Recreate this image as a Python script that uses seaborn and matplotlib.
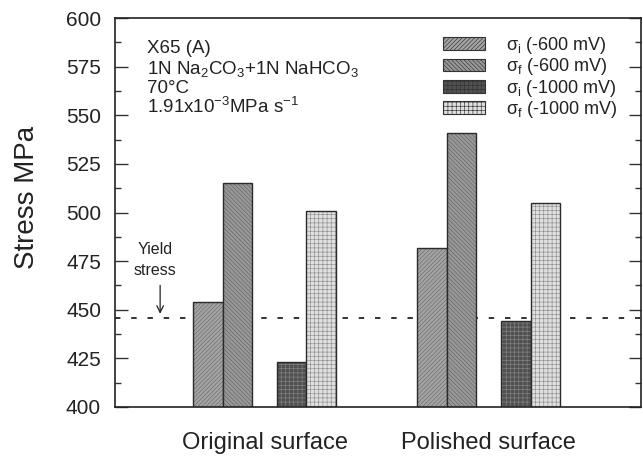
import matplotlib
matplotlib.use("Agg")
import matplotlib.pyplot as plt
import numpy as np
import pandas as pd
import seaborn as sns
from matplotlib.patches import Patch
from matplotlib.colors import to_rgba
from matplotlib.ticker import MultipleLocator

# ---- data ----
groups = ["Original surface", "Polished surface"]
series = [r"$\sigma_i$ (-600 mV)", r"$\sigma_f$ (-600 mV)",
          r"$\sigma_i$ (-1000 mV)", r"$\sigma_f$ (-1000 mV)"]
sigma_i_600 = [454, 482]
sigma_f_600 = [515, 541]
sigma_i_1000 = [423, 444]
sigma_f_1000 = [501, 505]
yield_stress = 446
yticks = [400, 425, 450, 475, 500, 525, 550, 575, 600]

# ---- layout (positions/styles) ----
group_pos = [0.0, 7.6]
series_offset = [-1.92, -0.92, 0.92, 1.92]
face = ["#a4a4a4", "#999999", "#505050", "#e0e0e0"]
hatches = ["////////", "\\\\\\\\\\\\\\\\", "++++", "++++"]
hatch_col = ["#6a6a6a", "#626262", "#858585", "#8e8e8e"]

sns.set_theme(style="white")
plt.rcParams["font.family"] = ["Liberation Sans", "DejaVu Sans"]
plt.rcParams["mathtext.fontset"] = "custom"
plt.rcParams["mathtext.rm"] = "Liberation Sans"
plt.rcParams["mathtext.it"] = "Liberation Sans"
plt.rcParams["mathtext.bf"] = "Liberation Sans:bold"
plt.rcParams["hatch.linewidth"] = 0.45

values = [sigma_i_600, sigma_f_600, sigma_i_1000, sigma_f_1000]
rows = []
for k, s in enumerate(series):
    for j, g in enumerate(groups):
        rows.append({"pos": group_pos[j] + series_offset[k], "stress": values[k][j],
                     "series": s, "group": g})
df = pd.DataFrame(rows)

fig = plt.figure(figsize=(6.43, 4.57), dpi=100)
ax = fig.add_axes([115 / 643, 1 - 407 / 457, 526 / 643, 389 / 457])

sns.barplot(data=df, x="pos", y="stress", hue="series", hue_order=series,
            palette=dict(zip(series, face)), native_scale=True, dodge=False,
            width=1.0, errorbar=None, legend=False, ax=ax, saturation=1)

for k, cont in enumerate(ax.containers):
    for p in cont:
        p.set_facecolor(face[k])
        p.set_hatch(hatches[k])
        p.set_edgecolor("#2a2a2a")
        p.set_linewidth(1.0)
        p._hatch_color = to_rgba(hatch_col[k])

ax.set_ylim(400, 600)
ax.set_xlim(-5.07, 12.76)
ax.set_yticks(yticks)
ax.yaxis.set_minor_locator(MultipleLocator(12.5))
ax.set_xticks(group_pos)
ax.set_xticklabels(groups, fontsize=17, color="#222222")
ax.tick_params(axis="x", length=0, pad=18)
ax.tick_params(axis="y", which="both", direction="in", left=True, right=True,
               labelsize=15, labelcolor="#222222", pad=10, width=1.0, color="#333333")
ax.tick_params(axis="y", which="major", length=9)
ax.tick_params(axis="y", which="minor", length=4.5)
ax.set_xlabel("")
ax.set_ylabel("Stress MPa", fontsize=20, color="#222222")
ax.yaxis.set_label_coords(-0.142, 0.54)
for sp in ax.spines.values():
    sp.set_visible(True)
    sp.set_color("#222222")
    sp.set_linewidth(1.2)

# yield stress line
ax.axhline(yield_stress, color="#222222", lw=1.3, linestyle=(0, (3, 6)), zorder=0.5)
ax.text(-3.72, 481, "Yield", fontsize=11.5, ha="center", va="center", color="#222222")
ax.text(-3.72, 470, "stress", fontsize=11.5, ha="center", va="center", color="#222222")
ax.annotate("", xy=(-3.54, yield_stress + 0.5), xytext=(-3.54, 464),
            arrowprops=dict(arrowstyle="->", color="#222222", lw=0.9))

# condition text
tx = -4.0
ax.text(tx, 584.5, "X65 (A)", fontsize=13.5, va="center", color="#222222")
ax.text(tx, 573.8, r"1N Na$_2$CO$_3$+1N NaHCO$_3$", fontsize=13.5, va="center", color="#222222")
ax.text(tx, 564.0, "70\u00b0C", fontsize=13.5, va="center", color="#222222")
ax.text(tx, 554.2, r"1.91x10$^{-3}$MPa s$^{-1}$", fontsize=13.5, va="center", color="#222222")

# legend
handles = [Patch(facecolor=face[k], hatch=hatches[k], edgecolor="#333333", linewidth=0.8)
           for k in range(4)]
leg = ax.legend(handles, series, loc="upper left", bbox_to_anchor=(443 / 643, 1 - 35 / 457),
                bbox_transform=fig.transFigure, frameon=False, fontsize=13,
                handlelength=2.3, handleheight=0.7, handletextpad=1.2,
                labelspacing=0.02, borderpad=0, borderaxespad=0)
for t in leg.get_texts():
    t.set_color("#222222")

fig.savefig("out.png", dpi=100)
